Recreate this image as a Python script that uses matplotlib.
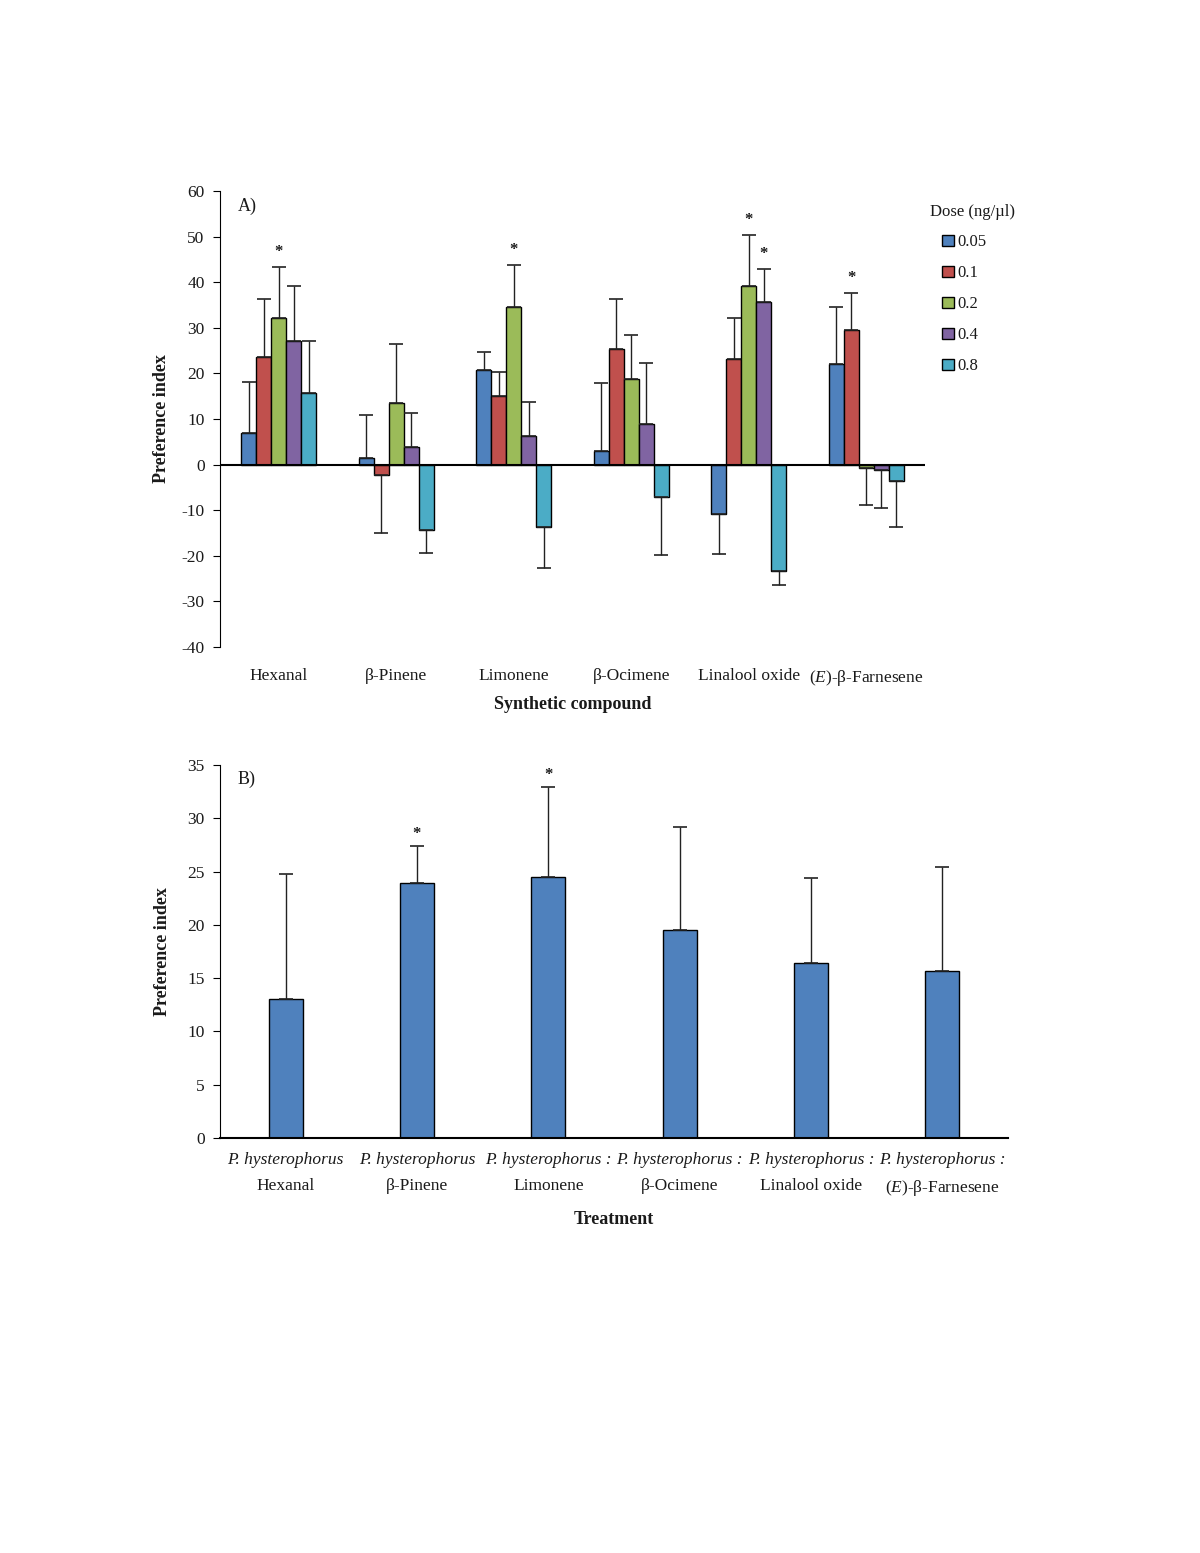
import numpy as np
import matplotlib
matplotlib.use("Agg")
import matplotlib.pyplot as plt

plt.rcParams['font.family'] = ['Liberation Serif', 'DejaVu Serif']
plt.rcParams['mathtext.fontset'] = 'custom'
plt.rcParams['mathtext.rm'] = 'Liberation Serif'
plt.rcParams['mathtext.it'] = 'Liberation Serif:italic'
plt.rcParams['axes.unicode_minus'] = False

# Panel A data
compounds = ["Hexanal", "β-Pinene", "Limonene", "β-Ocimene", "Linalool oxide", r"($\mathit{E}$)-β-Farnesene"]
doses = ["0.05", "0.1", "0.2", "0.4", "0.8"]
dose_005 = [7.0, 1.4, 20.7, 3.0, -10.9, 22.0]
dose_01 = [23.6, -2.3, 15.0, 25.3, 23.2, 29.5]
dose_02 = [32.1, 13.4, 34.6, 18.8, 39.1, -0.8]
dose_04 = [27.1, 3.9, 6.2, 8.8, 35.7, -1.2]
dose_08 = [15.8, -14.4, -13.6, -7.0, -23.3, -3.6]
err_005 = [11.1, 9.5, 3.9, 14.9, 8.7, 12.6]
err_01 = [12.8, 12.6, 5.4, 11.1, 9.0, 8.2]
err_02 = [11.3, 13.0, 9.1, 9.6, 11.3, 8.0]
err_04 = [12.0, 7.5, 7.6, 13.4, 7.2, 8.3]
err_08 = [11.3, 4.9, 9.1, 12.9, 3.1, 10.0]
# significant (compound index, dose index)
stars_a = [(0, 2), (2, 2), (4, 2), (4, 3), (5, 1)]

# Panel B data
treat_first = ["P. hysterophorus", "P. hysterophorus", "P. hysterophorus :", "P. hysterophorus :",
               "P. hysterophorus :", "P. hysterophorus :"]
treat_second = ["Hexanal", "β-Pinene", "Limonene", "β-Ocimene", "Linalool oxide", r"($\mathit{E}$)-β-Farnesene"]
pref_b = [13.0, 23.9, 24.5, 19.5, 16.4, 15.7]
err_b = [11.8, 3.5, 8.4, 9.7, 8.0, 9.7]
stars_b = [1, 2]

colors = ["#4F81BD", "#C0504D", "#9BBB59", "#8064A2", "#4BACC6"]
txt = "#1a1a1a"

fig = plt.figure(figsize=(12, 15.53), dpi=100)

# ---- Panel A
ax1 = fig.add_axes([0.1833, 0.5834, 0.5875, 0.2936])
series = [dose_005, dose_01, dose_02, dose_04, dose_08]
errs = [err_005, err_01, err_02, err_04, err_08]
x = np.arange(len(compounds))
w = 0.127
for i, (vals, e) in enumerate(zip(series, errs)):
    vals = np.array(vals)
    e = np.array(e)
    pos = x + (i - 2) * w
    ax1.bar(pos, vals, w, color=colors[i], edgecolor="black", linewidth=1.0, label=doses[i], zorder=2)
    lower = np.where(vals < 0, e, 0)
    upper = np.where(vals >= 0, e, 0)
    ax1.errorbar(pos, vals, yerr=[lower, upper], fmt="none", ecolor="#222222", elinewidth=1.0,
                 capsize=5, capthick=1.2, zorder=3)
for ci, di in stars_a:
    v = series[di][ci] + errs[di][ci]
    ax1.annotate("*", (x[ci] + (di - 2) * w, v), xytext=(0, 5), textcoords="offset points",
                 ha="center", va="bottom", fontsize=12, fontweight="bold", color=txt)
ax1.axhline(0, color="black", linewidth=1.5, zorder=4)
ax1.set_xlim(-0.5, 5.5)
ax1.set_ylim(-40, 60)
ax1.set_yticks(np.arange(-40, 61, 10))
ax1.set_xticks(x)
ax1.set_xticklabels(compounds)
ax1.tick_params(axis="x", length=0, pad=15, labelsize=12.5, labelcolor=txt)
ax1.tick_params(axis="y", length=5, pad=6, labelsize=12.5, labelcolor=txt)
for s in ["top", "right", "bottom"]:
    ax1.spines[s].set_visible(False)
ax1.set_xlabel("Synthetic compound", fontsize=13, fontweight="bold", labelpad=6, color=txt)
ax1.set_ylabel("Preference index", fontsize=13, fontweight="bold", labelpad=8, color=txt)
ax1.text(0.025, 0.985, "A)", transform=ax1.transAxes, fontsize=13, va="top", color=txt)
ax1.text(1.007, 0.954, "Dose (ng/µl)", transform=ax1.transAxes, fontsize=12, va="center", ha="left", color=txt)
leg = ax1.legend(loc="upper left", bbox_to_anchor=(1.024, 0.905), frameon=False,
                 fontsize=12, handlelength=0.7, handleheight=0.7, borderpad=0,
                 handletextpad=0.25, labelspacing=0.9, borderaxespad=0)
for t in leg.get_texts():
    t.set_color(txt)

# ---- Panel B
ax2 = fig.add_axes([0.1833, 0.2672, 0.6567, 0.2402])
xb = np.arange(len(pref_b))
ax2.bar(xb, pref_b, 0.26, color="#4F81BD", edgecolor="black", linewidth=1.0, zorder=2)
ax2.errorbar(xb, pref_b, yerr=[np.zeros(len(err_b)), err_b], fmt="none", ecolor="#222222",
             elinewidth=1.0, capsize=5, capthick=1.2, zorder=3)
for i in stars_b:
    ax2.annotate("*", (xb[i], pref_b[i] + err_b[i]), xytext=(0, 3), textcoords="offset points",
                 ha="center", va="bottom", fontsize=12, fontweight="bold", color=txt)
ax2.set_xlim(-0.5, 5.5)
ax2.set_ylim(0, 35)
ax2.set_yticks(np.arange(0, 36, 5))
ax2.set_xticks(xb)
ax2.set_xticklabels(treat_second)
ax2.tick_params(axis="x", length=0, pad=29, labelsize=12.5, labelcolor=txt)
ax2.tick_params(axis="y", length=5, pad=6, labelsize=12.5, labelcolor=txt)
for i, t in enumerate(treat_first):
    ax2.annotate(t, (xb[i], 0), xytext=(0, -16), textcoords="offset points", ha="center", va="center",
                 fontsize=12.5, style="italic", color=txt, annotation_clip=False)
for s in ["top", "right"]:
    ax2.spines[s].set_visible(False)
ax2.spines["bottom"].set_linewidth(1.5)
ax2.set_xlabel("Treatment", fontsize=13, fontweight="bold", labelpad=9, color=txt)
ax2.set_ylabel("Preference index", fontsize=13, fontweight="bold", labelpad=12, color=txt)
ax2.text(0.022, 0.985, "B)", transform=ax2.transAxes, fontsize=13, va="top", color=txt)

fig.savefig("out.png", dpi=100)
